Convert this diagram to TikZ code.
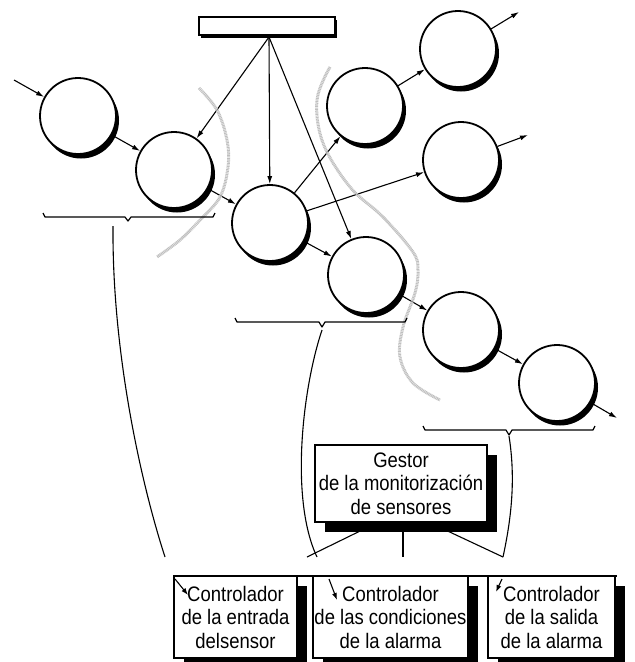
\documentclass[tikz,border=0pt]{standalone}
\usepackage{fontspec}
\newfontfamily\labelfont[FakeStretch=0.88]{Liberation Sans}
\usetikzlibrary{arrows.meta,shadows}

\begin{document}
\begin{tikzpicture}[x=1pt,y=-1pt,
  proc/.style={circle, draw, line width=1.8pt, fill=white, minimum size=76pt,
    inner sep=0pt, drop shadow={shadow xshift=3pt, shadow yshift=-4.5pt,
    fill=black, opacity=1}},
  flow/.style={line width=1.1pt, -{Latex[length=8pt,width=5pt]}},
  thin line/.style={line width=1.1pt},
  boundary/.style={draw=gray!50, line width=3pt, dash pattern=on 1pt off 0.6pt},
  brace line/.style={line width=1.2pt, line join=round},
  module/.style={rectangle, draw, line width=1.5pt, fill=white, inner sep=0pt,
    align=center, font=\labelfont\fontsize{21}{23.5}\selectfont,
    drop shadow={shadow xshift=10pt, shadow yshift=-10pt, fill=black, opacity=1}},
  store/.style={rectangle, draw, line width=2.8pt, fill=white, inner sep=0pt,
    minimum width=136pt, minimum height=18pt,
    drop shadow={shadow xshift=2pt, shadow yshift=-3pt, fill=black, opacity=1}}
]
\useasboundingbox (0,0) rectangle (635,662);

% data store feeding the transform
\node[store] (store) at (267,26) {};
\coordinate (hub) at (269,37);

% processes of the flow diagram
\node[proc] (c1) at (78,116) {};
\node[proc] (c2) at (174,170) {};
\node[proc] (c3) at (270,223) {};
\node[proc] (c4) at (365,106) {};
\node[proc] (c5) at (458,49) {};
\node[proc] (c6) at (461,160) {};
\node[proc] (c7) at (366,275) {};
\node[proc] (c8) at (461,330) {};
\node[proc] (c9) at (557,383) {};

% free ends of incoming and outgoing flows
\coordinate (in1) at (14,80);
\coordinate (out5) at (519,12);
\coordinate (out6) at (528,135);
\coordinate (out9) at (617,418);

% flows
\draw[flow] (in1) -- (c1);
\draw[flow] (c1) -- (c2);
\draw[flow] (c2) -- (c3);
\draw[flow] (c3) -- (c4);
\draw[flow] (c3) -- (c6);
\draw[flow] (c3) -- (c7);
\draw[flow] (c4) -- (c5);
\draw[flow] (c5) -- (out5);
\draw[flow] (c6) -- (out6);
\draw[flow] (c7) -- (c8);
\draw[flow] (c8) -- (c9);
\draw[flow] (c9) -- (out9);
\draw[thin line] (store.south -| hub) -- (hub);
\draw[flow] (hub) -- (c2);
\draw[flow] (hub) -- (c3);
\draw[flow] (hub) -- (c7);

% flow boundaries
\draw[boundary] plot[smooth, tension=0.6] coordinates
  {(199,88) (217,110) (227,140) (228,167) (220,197) (200,220) (180,240) (157,257)};
\draw[boundary] plot[smooth, tension=0.6] coordinates
  {(330,67) (317,100) (323,143) (350,187) (383,217) (413,252) (418,270)
   (415,293) (403,327) (400,357) (413,383) (440,400)};

% braces grouping the processes
\draw[brace line] (43,213) -- (45,217) -- (125,217) -- (128,221) -- (131,217)
  -- (213,217) -- (215,213);
\draw[brace line] (235,318) -- (237,322) -- (319,322) -- (322,327) -- (325,322)
  -- (405,322) -- (407,318);
\draw[brace line] (423,426) -- (425,430) -- (506,430) -- (509,435) -- (512,430)
  -- (593,430) -- (595,426);
\coordinate (g1) at (113,226);
\coordinate (g2) at (322,330);
\coordinate (g3) at (509,436);

% program structure
\node[module, minimum width=172pt, minimum height=77pt] (mgr) at (401,483.5)
  {Gestor\\de la monitorización\\de sensores};

\node[module, minimum width=123pt, minimum height=82pt] (m1) at (235.5,617)
  {Controlador\\de la entrada\\delsensor};
\node[module, minimum width=155pt, minimum height=82pt] (m2) at (390.5,617)
  {Controlador\\de las condiciones\\de la alarma};
\node[module, minimum width=127pt, minimum height=82pt] (m3) at (551.5,617)
  {Controlador\\de la salida\\de la alarma};
\draw[line width=2pt] (173,576) -- (617,576);

% call lines leaving the manager
\coordinate (k1) at (307,557);
\coordinate (k2) at (403,557);
\coordinate (k3) at (503,557);
\draw[thin line] (mgr.south -| 377,0) -- (k1);
\draw[thin line] (mgr.south -| k2) -- (k2);
\draw[thin line] (mgr.south -| 430,0) -- (k3);

% mapping curves from process groups to modules
\coordinate (e1) at (165,557);
\coordinate (e2) at (317,557);
\coordinate (e3) at (503,557);
\draw[thin line] (g1) .. controls (112,350) and (140,480) .. (e1);
\draw[thin line] (g2) .. controls (302,390) and (290,500) .. (e2);
\draw[thin line] (g3) .. controls (516,480) and (511,520) .. (e3);
\coordinate (a1) at (175,579);
\coordinate (a2) at (329,579);
\coordinate (a3) at (502,579);
\draw[flow, -{Latex[length=7pt,width=5pt]}] (a1) -- (188,595);
\draw[flow, -{Latex[length=7pt,width=5pt]}] (a2) -- (337,600);
\draw[flow, -{Latex[length=7pt,width=5pt]}] (a3) -- (496,592);
\end{tikzpicture}
\end{document}
